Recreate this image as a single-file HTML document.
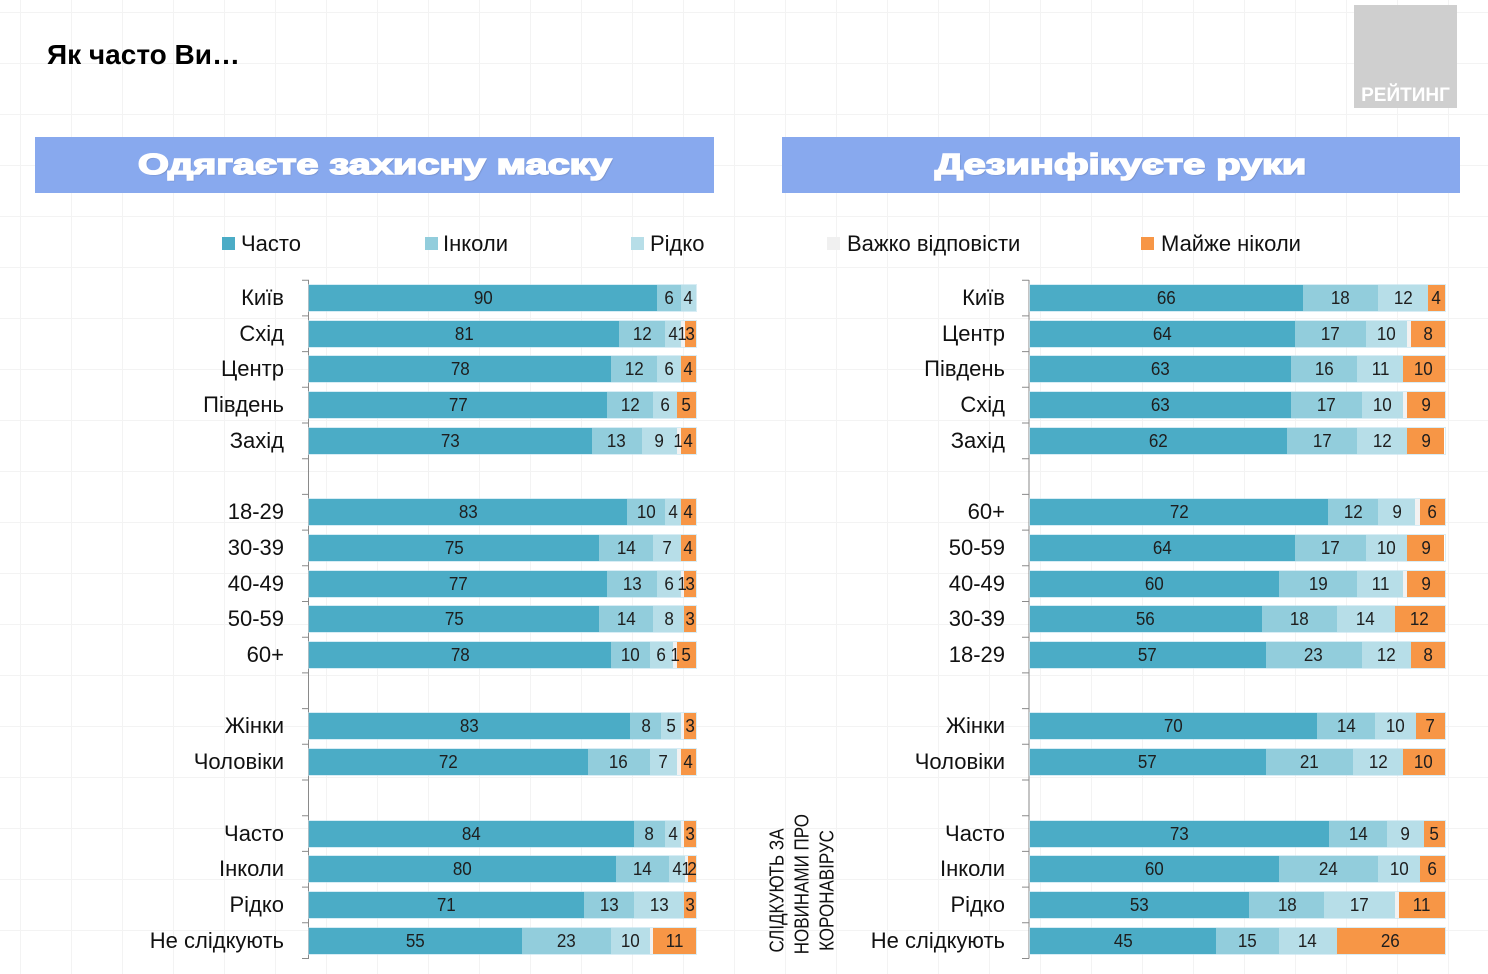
<!DOCTYPE html>
<html lang="uk">
<head>
<meta charset="utf-8">
<style>
  html,body{margin:0;padding:0;}
  body{width:1488px;height:974px;position:relative;overflow:hidden;background:#fff;
    background-image:linear-gradient(#f3f3f3 1px,transparent 1px),linear-gradient(90deg,#f3f3f3 1px,transparent 1px);
    background-size:51px 51px;background-position:20px 12px;
    font-family:"Liberation Sans","Noto Sans CJK SC",sans-serif;color:#111;}
  .abs{position:absolute;}
  .title{left:47px;top:37px;font-size:28px;font-weight:bold;color:#000;line-height:36px;white-space:nowrap;}
  .logo{left:1354px;top:5px;width:103px;height:103px;background:#cfcfcf;}
  .logo span{position:absolute;left:0;right:0;bottom:1px;text-align:center;color:#fff;font-weight:bold;font-size:19px;line-height:22px;}
  .hdr{top:137px;height:56px;background:#88a9ee;display:flex;align-items:center;justify-content:center;}
  .hdr span{display:inline-block;color:#fff;font-weight:bold;font-size:29px;line-height:34px;white-space:nowrap;
    transform:scaleX(1.37);-webkit-text-stroke:1.6px #fff;text-shadow:1px 1px 1px rgba(60,60,90,0.35);}
  .lg{top:231px;height:26px;line-height:26px;font-size:22px;white-space:nowrap;color:#111;}
  .mk{width:13px;height:13px;top:237px;}
  .cat{height:26px;line-height:26px;font-size:22px;text-align:right;white-space:nowrap;color:#111;}
  .bar{position:absolute;height:26px;display:flex;box-shadow:0 0 0 1px rgba(190,225,238,0.6);}
  .bar i{font-style:normal;display:flex;align-items:center;justify-content:center;min-width:0;flex-basis:0;
    white-space:nowrap;font-size:18.5px;color:#1e1e1e;overflow:visible;}
  .bar i b{font-weight:normal;position:relative;z-index:2;display:inline-block;transform:scaleX(0.92);}
  .a{background:#4bacc6;}
  .b{background:#92cddc;}
  .c{background:#b7dee8;}
  .g{background:#f2f2f2;}
  .o{background:#f79646;}
  .L .bar{left:309px;width:387px;}
  .R .bar{left:1029.5px;width:415px;}
  .L .cat{right:1204px;}
  .R .cat{right:483px;}
  .vt{left:728px;top:852.5px;width:150px;height:75px;font-size:20px;line-height:25px;text-align:center;
    transform:rotate(-90deg) scaleX(0.85);color:#111;white-space:nowrap;}
</style>
</head>
<body>

<div class="abs title">Як часто Ви…</div>
<div class="abs logo"><span>РЕЙТИНГ</span></div>

<div class="abs hdr" style="left:35px;width:679px;"><span>Одягаєте захисну маску</span></div>
<div class="abs hdr" style="left:782px;width:678px;"><span>Дезинфікуєте руки</span></div>

<!-- legend -->
<div class="abs mk" style="left:222px;background:#4bacc6;"></div>
<div class="abs lg" style="left:241px;">Часто</div>
<div class="abs mk" style="left:425px;background:#92cddc;"></div>
<div class="abs lg" style="left:443px;">Інколи</div>
<div class="abs mk" style="left:631px;background:#b7dee8;"></div>
<div class="abs lg" style="left:650px;">Рідко</div>
<div class="abs mk" style="left:827px;background:#f0f0f0;"></div>
<div class="abs lg" style="left:847px;">Важко відповісти</div>
<div class="abs mk" style="left:1141px;background:#f79646;"></div>
<div class="abs lg" style="left:1161px;">Майже ніколи</div>

<!-- axes -->
<svg class="abs" style="left:0;top:0;" width="1488" height="974" viewBox="0 0 1488 974">
  <g stroke="#8a8a8a" stroke-width="1" fill="none">
    <path d="M308.5 280V958.5"/>
    <path d="M1029 280V958.5"/>
    <path d="M302 280.2H309M302 315.9H309M302 351.6H309M302 387.3H309M302 423H309M302 458.7H309M302 494.4H309M302 530.1H309M302 565.8H309M302 601.5H309M302 637.2H309M302 672.9H309M302 708.6H309M302 744.3H309M302 780H309M302 815.7H309M302 851.4H309M302 887.1H309M302 922.8H309M302 958.5H309"/>
    <path d="M1022 280.2H1029M1022 315.9H1029M1022 351.6H1029M1022 387.3H1029M1022 423H1029M1022 458.7H1029M1022 494.4H1029M1022 530.1H1029M1022 565.8H1029M1022 601.5H1029M1022 637.2H1029M1022 672.9H1029M1022 708.6H1029M1022 744.3H1029M1022 780H1029M1022 815.7H1029M1022 851.4H1029M1022 887.1H1029M1022 922.8H1029M1022 958.5H1029"/>
  </g>
</svg>

<!-- LEFT CHART -->
<div class="L">
  <div class="abs cat" style="top:285px;">Київ</div>
  <div class="abs cat" style="top:320.7px;">Схід</div>
  <div class="abs cat" style="top:356.4px;">Центр</div>
  <div class="abs cat" style="top:392.1px;">Південь</div>
  <div class="abs cat" style="top:427.8px;">Захід</div>
  <div class="abs cat" style="top:499.2px;">18-29</div>
  <div class="abs cat" style="top:534.9px;">30-39</div>
  <div class="abs cat" style="top:570.6px;">40-49</div>
  <div class="abs cat" style="top:606.3px;">50-59</div>
  <div class="abs cat" style="top:642px;">60+</div>
  <div class="abs cat" style="top:713.4px;">Жінки</div>
  <div class="abs cat" style="top:749.1px;">Чоловіки</div>
  <div class="abs cat" style="top:820.5px;">Часто</div>
  <div class="abs cat" style="top:856.2px;">Інколи</div>
  <div class="abs cat" style="top:891.9px;">Рідко</div>
  <div class="abs cat" style="top:927.6px;">Не слідкують</div>

  <div class="bar" style="top:285px;"><i class="a" style="flex:90"><b>90</b></i><i class="b" style="flex:6"><b>6</b></i><i class="c" style="flex:4"><b>4</b></i></div>
  <div class="bar" style="top:320.7px;"><i class="a" style="flex:81"><b>81</b></i><i class="b" style="flex:12"><b>12</b></i><i class="c" style="flex:4"><b>4</b></i><i class="g" style="flex:1"><b>1</b></i><i class="o" style="flex:3"><b>3</b></i></div>
  <div class="bar" style="top:356.4px;"><i class="a" style="flex:78"><b>78</b></i><i class="b" style="flex:12"><b>12</b></i><i class="c" style="flex:6"><b>6</b></i><i class="o" style="flex:4"><b>4</b></i></div>
  <div class="bar" style="top:392.1px;"><i class="a" style="flex:77"><b>77</b></i><i class="b" style="flex:12"><b>12</b></i><i class="c" style="flex:6"><b>6</b></i><i class="o" style="flex:5"><b>5</b></i></div>
  <div class="bar" style="top:427.8px;"><i class="a" style="flex:73"><b>73</b></i><i class="b" style="flex:13"><b>13</b></i><i class="c" style="flex:9"><b>9</b></i><i class="g" style="flex:1"><b>1</b></i><i class="o" style="flex:4"><b>4</b></i></div>

  <div class="bar" style="top:499.2px;"><i class="a" style="flex:83"><b>83</b></i><i class="b" style="flex:10"><b>10</b></i><i class="c" style="flex:4"><b>4</b></i><i class="o" style="flex:4"><b>4</b></i></div>
  <div class="bar" style="top:534.9px;"><i class="a" style="flex:75"><b>75</b></i><i class="b" style="flex:14"><b>14</b></i><i class="c" style="flex:7"><b>7</b></i><i class="o" style="flex:4"><b>4</b></i></div>
  <div class="bar" style="top:570.6px;"><i class="a" style="flex:77"><b>77</b></i><i class="b" style="flex:13"><b>13</b></i><i class="c" style="flex:6"><b>6</b></i><i class="g" style="flex:1"><b>1</b></i><i class="o" style="flex:3"><b>3</b></i></div>
  <div class="bar" style="top:606.3px;"><i class="a" style="flex:75"><b>75</b></i><i class="b" style="flex:14"><b>14</b></i><i class="c" style="flex:8"><b>8</b></i><i class="o" style="flex:3"><b>3</b></i></div>
  <div class="bar" style="top:642px;"><i class="a" style="flex:78"><b>78</b></i><i class="b" style="flex:10"><b>10</b></i><i class="c" style="flex:6"><b>6</b></i><i class="g" style="flex:1"><b>1</b></i><i class="o" style="flex:5"><b>5</b></i></div>

  <div class="bar" style="top:713.4px;"><i class="a" style="flex:83"><b>83</b></i><i class="b" style="flex:8"><b>8</b></i><i class="c" style="flex:5"><b>5</b></i><i class="g" style="flex:1"></i><i class="o" style="flex:3"><b>3</b></i></div>
  <div class="bar" style="top:749.1px;"><i class="a" style="flex:72"><b>72</b></i><i class="b" style="flex:16"><b>16</b></i><i class="c" style="flex:7"><b>7</b></i><i class="g" style="flex:1"></i><i class="o" style="flex:4"><b>4</b></i></div>

  <div class="bar" style="top:820.5px;"><i class="a" style="flex:84"><b>84</b></i><i class="b" style="flex:8"><b>8</b></i><i class="c" style="flex:4"><b>4</b></i><i class="g" style="flex:1"></i><i class="o" style="flex:3"><b>3</b></i></div>
  <div class="bar" style="top:856.2px;"><i class="a" style="flex:80"><b>80</b></i><i class="b" style="flex:14"><b>14</b></i><i class="c" style="flex:4"><b>4</b></i><i class="g" style="flex:1"><b>1</b></i><i class="o" style="flex:2"><b>2</b></i></div>
  <div class="bar" style="top:891.9px;"><i class="a" style="flex:71"><b>71</b></i><i class="b" style="flex:13"><b>13</b></i><i class="c" style="flex:13"><b>13</b></i><i class="o" style="flex:3"><b>3</b></i></div>
  <div class="bar" style="top:927.6px;"><i class="a" style="flex:55"><b>55</b></i><i class="b" style="flex:23"><b>23</b></i><i class="c" style="flex:10"><b>10</b></i><i class="g" style="flex:1"></i><i class="o" style="flex:11"><b>11</b></i></div>
</div>

<!-- vertical label -->
<div class="abs vt">СЛІДКУЮТЬ ЗА<br>НОВИНАМИ ПРО<br>КОРОНАВІРУС</div>

<!-- RIGHT CHART -->
<div class="R">
  <div class="abs cat" style="top:285px;">Київ</div>
  <div class="abs cat" style="top:320.7px;">Центр</div>
  <div class="abs cat" style="top:356.4px;">Південь</div>
  <div class="abs cat" style="top:392.1px;">Схід</div>
  <div class="abs cat" style="top:427.8px;">Захід</div>
  <div class="abs cat" style="top:499.2px;">60+</div>
  <div class="abs cat" style="top:534.9px;">50-59</div>
  <div class="abs cat" style="top:570.6px;">40-49</div>
  <div class="abs cat" style="top:606.3px;">30-39</div>
  <div class="abs cat" style="top:642px;">18-29</div>
  <div class="abs cat" style="top:713.4px;">Жінки</div>
  <div class="abs cat" style="top:749.1px;">Чоловіки</div>
  <div class="abs cat" style="top:820.5px;">Часто</div>
  <div class="abs cat" style="top:856.2px;">Інколи</div>
  <div class="abs cat" style="top:891.9px;">Рідко</div>
  <div class="abs cat" style="top:927.6px;">Не слідкують</div>

  <div class="bar" style="top:285px;"><i class="a" style="flex:66"><b>66</b></i><i class="b" style="flex:18"><b>18</b></i><i class="c" style="flex:12"><b>12</b></i><i class="o" style="flex:4"><b>4</b></i></div>
  <div class="bar" style="top:320.7px;"><i class="a" style="flex:64"><b>64</b></i><i class="b" style="flex:17"><b>17</b></i><i class="c" style="flex:10"><b>10</b></i><i class="g" style="flex:1"></i><i class="o" style="flex:8"><b>8</b></i></div>
  <div class="bar" style="top:356.4px;"><i class="a" style="flex:63"><b>63</b></i><i class="b" style="flex:16"><b>16</b></i><i class="c" style="flex:11"><b>11</b></i><i class="o" style="flex:10"><b>10</b></i></div>
  <div class="bar" style="top:392.1px;"><i class="a" style="flex:63"><b>63</b></i><i class="b" style="flex:17"><b>17</b></i><i class="c" style="flex:10"><b>10</b></i><i class="g" style="flex:1"></i><i class="o" style="flex:9"><b>9</b></i></div>
  <div class="bar" style="top:427.8px;"><i class="a" style="flex:62"><b>62</b></i><i class="b" style="flex:17"><b>17</b></i><i class="c" style="flex:12"><b>12</b></i><i class="o" style="flex:9"><b>9</b></i></div>

  <div class="bar" style="top:499.2px;"><i class="a" style="flex:72"><b>72</b></i><i class="b" style="flex:12"><b>12</b></i><i class="c" style="flex:9"><b>9</b></i><i class="g" style="flex:1"></i><i class="o" style="flex:6"><b>6</b></i></div>
  <div class="bar" style="top:534.9px;"><i class="a" style="flex:64"><b>64</b></i><i class="b" style="flex:17"><b>17</b></i><i class="c" style="flex:10"><b>10</b></i><i class="o" style="flex:9"><b>9</b></i></div>
  <div class="bar" style="top:570.6px;"><i class="a" style="flex:60"><b>60</b></i><i class="b" style="flex:19"><b>19</b></i><i class="c" style="flex:11"><b>11</b></i><i class="g" style="flex:1"></i><i class="o" style="flex:9"><b>9</b></i></div>
  <div class="bar" style="top:606.3px;"><i class="a" style="flex:56"><b>56</b></i><i class="b" style="flex:18"><b>18</b></i><i class="c" style="flex:14"><b>14</b></i><i class="o" style="flex:12"><b>12</b></i></div>
  <div class="bar" style="top:642px;"><i class="a" style="flex:57"><b>57</b></i><i class="b" style="flex:23"><b>23</b></i><i class="c" style="flex:12"><b>12</b></i><i class="o" style="flex:8"><b>8</b></i></div>

  <div class="bar" style="top:713.4px;"><i class="a" style="flex:70"><b>70</b></i><i class="b" style="flex:14"><b>14</b></i><i class="c" style="flex:10"><b>10</b></i><i class="o" style="flex:7"><b>7</b></i></div>
  <div class="bar" style="top:749.1px;"><i class="a" style="flex:57"><b>57</b></i><i class="b" style="flex:21"><b>21</b></i><i class="c" style="flex:12"><b>12</b></i><i class="o" style="flex:10"><b>10</b></i></div>

  <div class="bar" style="top:820.5px;"><i class="a" style="flex:73"><b>73</b></i><i class="b" style="flex:14"><b>14</b></i><i class="c" style="flex:9"><b>9</b></i><i class="o" style="flex:5"><b>5</b></i></div>
  <div class="bar" style="top:856.2px;"><i class="a" style="flex:60"><b>60</b></i><i class="b" style="flex:24"><b>24</b></i><i class="c" style="flex:10"><b>10</b></i><i class="o" style="flex:6"><b>6</b></i></div>
  <div class="bar" style="top:891.9px;"><i class="a" style="flex:53"><b>53</b></i><i class="b" style="flex:18"><b>18</b></i><i class="c" style="flex:17"><b>17</b></i><i class="g" style="flex:1"></i><i class="o" style="flex:11"><b>11</b></i></div>
  <div class="bar" style="top:927.6px;"><i class="a" style="flex:45"><b>45</b></i><i class="b" style="flex:15"><b>15</b></i><i class="c" style="flex:14"><b>14</b></i><i class="o" style="flex:26"><b>26</b></i></div>
</div>

</body>
</html>
